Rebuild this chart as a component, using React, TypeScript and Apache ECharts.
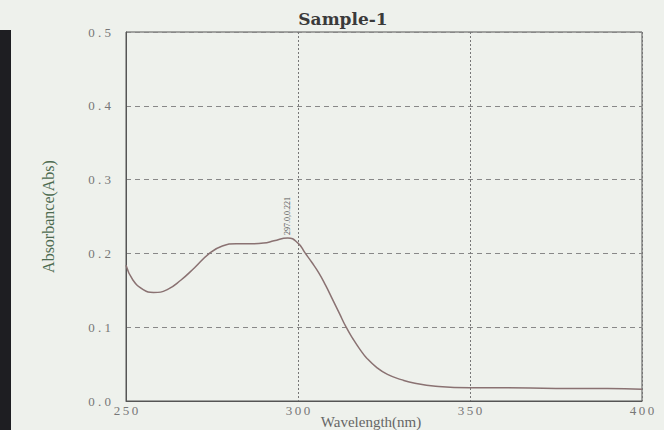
import React, { useEffect, useRef } from "react";
import * as echarts from "echarts";

const wavelengths = [250, 252, 255, 258, 262, 266, 270, 274, 278, 282, 286, 290, 293, 297, 300, 302, 304, 306, 308, 310, 312, 314, 316, 318, 320, 323, 326, 330, 334, 340, 350, 360, 375, 390, 400];
const absorbance = [0.184, 0.164, 0.151, 0.147, 0.151, 0.164, 0.181, 0.199, 0.21, 0.213, 0.213, 0.214, 0.217, 0.221, 0.214, 0.201, 0.188, 0.174, 0.157, 0.138, 0.119, 0.1, 0.084, 0.07, 0.058, 0.045, 0.036, 0.029, 0.024, 0.02, 0.018, 0.018, 0.017, 0.017, 0.016];
const peak = [297.0, 0.221];
const titleText = "Sample-1";
const xName = "Wavelength(nm)";
const yName = "Absorbance(Abs)";

const serif = "'Liberation Serif', 'DejaVu Serif', serif";

export default function App() {
  const ref = useRef<HTMLDivElement>(null);
  useEffect(() => {
    if (!ref.current) return;
    const chart = echarts.init(ref.current, undefined, { renderer: "svg" });
    chart.setOption({
      animation: false,
      backgroundColor: "#eef1ec",
      title: {
        text: titleText,
        left: 338,
        top: 5,
        textAlign: "center",
        textStyle: { fontFamily: "'DejaVu Serif', serif", fontWeight: "bold", fontSize: 17, color: "#3a3a3a" },
      },
      graphic: [
        { type: "rect", shape: { x: 0, y: 30, width: 11, height: 400 }, style: { fill: "#1e1e22" } },
      ],
      grid: {
        left: 126,
        right: 22,
        top: 32,
        bottom: 29,
        outerBoundsMode: "none",
        containLabel: false,
        show: true,
        borderColor: "#555",
        borderWidth: 1,
        backgroundColor: "transparent",
      },
      xAxis: {
        type: "value",
        min: 250,
        max: 400,
        interval: 50,
        name: xName,
        nameLocation: "middle",
        nameGap: 13,
        nameMoveOverlap: false,
        nameTextStyle: { fontFamily: serif, fontSize: 15, color: "#666", letterSpacing: 1, padding: [0, 26, 0, 0] },
        axisLine: { show: true, lineStyle: { color: "#555" } },
        axisTick: { show: false },
        axisLabel: {
          fontFamily: serif,
          fontSize: 13,
          color: "#777",
          margin: 3,
          formatter: (v: number) => String(v).split("").join("\u2009"),
        },
        splitLine: { show: true, lineStyle: { type: [2, 2], color: "#777", width: 1 } },
      },
      yAxis: {
        type: "value",
        min: 0,
        max: 0.5,
        interval: 0.1,
        name: yName,
        nameLocation: "middle",
        nameGap: 70,
        nameTextStyle: { fontFamily: serif, fontSize: 16, color: "#4d6b50" },
        axisLine: { show: true, lineStyle: { color: "#555" } },
        axisTick: { show: false },
        axisLabel: {
          fontFamily: serif,
          fontSize: 13,
          color: "#777",
          margin: 15,
          formatter: (v: number) => v.toFixed(1).split("").join(" "),
        },
        splitLine: { show: true, lineStyle: { type: [5, 4], color: "#888", width: 1 } },
      },
      series: [
        {
          type: "line",
          data: wavelengths.map((w, i) => [w, absorbance[i]]),
          smooth: true,
          showSymbol: false,
          lineStyle: { color: "#8a7272", width: 1.5 },
          markPoint: {
            symbol: "circle",
            symbolSize: 0,
            data: [
              {
                coord: peak,
                label: {
                  show: true,
                  formatter: peak[0].toFixed(1) + "," + peak[1].toFixed(3),
                  position: "top",
                  rotate: 90,
                  align: "left",
                  verticalAlign: "middle",
                  distance: 3,
                  fontFamily: serif,
                  fontSize: 8,
                  color: "#555",
                },
              },
            ],
          },
        },
      ],
    });
    return () => chart.dispose();
  }, []);
  return <div ref={ref} style={{ position: "fixed", left: 0, top: 0, width: 664, height: 430 }} />;
}
